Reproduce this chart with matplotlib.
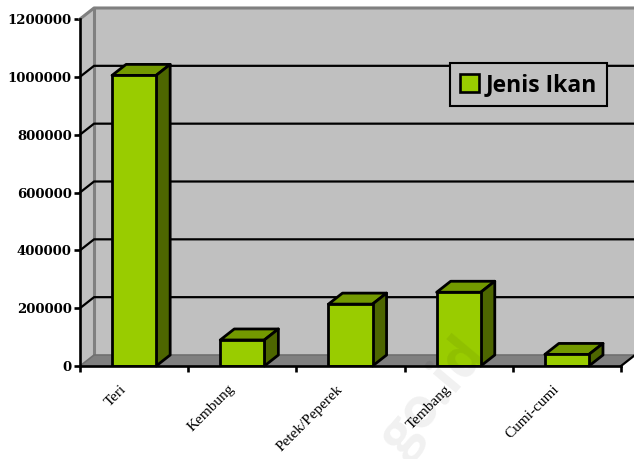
#3D style column chart, built by hand because the look is the old excel one
import matplotlib
matplotlib.use('Agg')
import matplotlib.pyplot as plt
from matplotlib.patches import Polygon

# data
jenis = ['Teri', 'Kembung', 'Petek/Peperek', 'Tembang', 'Cumi-cumi']
produksi = [1005000, 90000, 214000, 255000, 40000]
y_ticks = [0, 200000, 400000, 600000, 800000, 1000000, 1200000]

W, H = 634, 459
fig = plt.figure(figsize=(W/100, H/100), dpi=100)
ax = fig.add_axes([80/W, (H-366)/H, (621-80)/W, (366-19)/H])
ax.set_xlim(0, len(jenis))
ax.set_ylim(0, y_ticks[-1])
ax.patch.set_visible(False)

# depth of the fake 3D box, in data units
dx = 14/108
dy = 11/347*y_ticks[-1]
bar_w = 44/108
top = y_ticks[-1]
n = len(jenis)

def poly(pts, fc, ec='none', lw=0, z=1):
    ax.add_patch(Polygon(pts, closed=True, facecolor=fc, edgecolor=ec, linewidth=lw,
                         zorder=z, clip_on=False, joinstyle='round'))

#walls and floor
poly([(dx, dy), (n+dx, dy), (n+dx, top+dy), (dx, top+dy)], '#c0c0c0')
poly([(0, 0), (dx, dy), (dx, top+dy), (0, top)], '#c0c0c0')
poly([(0, 0), (n, 0), (n+dx, dy), (dx, dy)], '#808080')
ax.plot([0, dx, n+dx], [top, top+dy, top+dy], color='#808080', lw=2.2, zorder=2, clip_on=False)
ax.plot([dx, dx], [dy, top+dy], color='#808080', lw=2.2, zorder=2, clip_on=False)
ax.plot([0, dx, n+dx], [0, dy, dy], color='#707070', lw=1.2, zorder=2, clip_on=False)

#gridlines go across the left wall and then the back wall
for v in y_ticks[1:-1]:
    ax.plot([0, dx, n+dx], [v, v+dy, v+dy], color='black', lw=1.6, zorder=3, clip_on=False)
ax.plot([n, n+dx], [0, dy], color='black', lw=1.6, zorder=3, clip_on=False)

#bars
for i, v in enumerate(produksi):
    x0 = i + 0.5 - bar_w/2
    x1 = i + 0.5 + bar_w/2
    ax.bar(i+0.5, v, width=bar_w, color='#99cc00', edgecolor='black', linewidth=2.0, zorder=6)
    poly([(x0, v), (x1, v), (x1+dx, v+dy), (x0+dx, v+dy)], '#739900', 'black', 2.0, 5)
    poly([(x1, 0), (x1+dx, dy), (x1+dx, v+dy), (x1, v)], '#4d6600', 'black', 2.0, 5)

# axes and ticks
for s in ['top', 'right']:
    ax.spines[s].set_visible(False)
for s in ['left', 'bottom']:
    ax.spines[s].set_linewidth(1.9)
    ax.spines[s].set_zorder(7)
ax.set_yticks(y_ticks)
ax.set_yticklabels([str(v) for v in y_ticks], family='DejaVu Serif', fontweight='bold', fontsize=9.5)
ax.set_xticks(range(n+1))
ax.set_xticklabels([])
ax.tick_params(axis='both', length=4.5, width=1.9, pad=1.5)

for i, name in enumerate(jenis):
    ax.annotate(name, (i+0.5, 0), xytext=(-10, -12), textcoords='offset points',
                rotation=45, rotation_mode='anchor', ha='right', va='top',
                family='Liberation Serif', fontsize=11, annotation_clip=False)

# legend box
leg = ax.legend([plt.Rectangle((0, 0), 1, 1, fc='#99cc00', ec='black', lw=1.9)], ['Jenis Ikan'],
                loc='upper left', bbox_to_anchor=(450/W, 1-63/H), bbox_transform=fig.transFigure,
                fancybox=False, framealpha=1, facecolor='#c0c0c0', edgecolor='black',
                prop={'family': 'Open Sans', 'weight': 'bold', 'size': 16.5},
                handlelength=0.85, handleheight=0.85, handletextpad=0.3,
                borderpad=0.42, borderaxespad=0)
leg.get_frame().set_linewidth(1.5)
leg.set_zorder(8)

# faint watermark from the source page
fig.text(402/W, 1-458/H, 'go.id', rotation=50, color='black', alpha=0.06, fontsize=40,
         fontweight='bold', family='Open Sans', ha='left', va='baseline',
         rotation_mode='anchor', zorder=9)

fig.savefig('out.png', dpi=100)
